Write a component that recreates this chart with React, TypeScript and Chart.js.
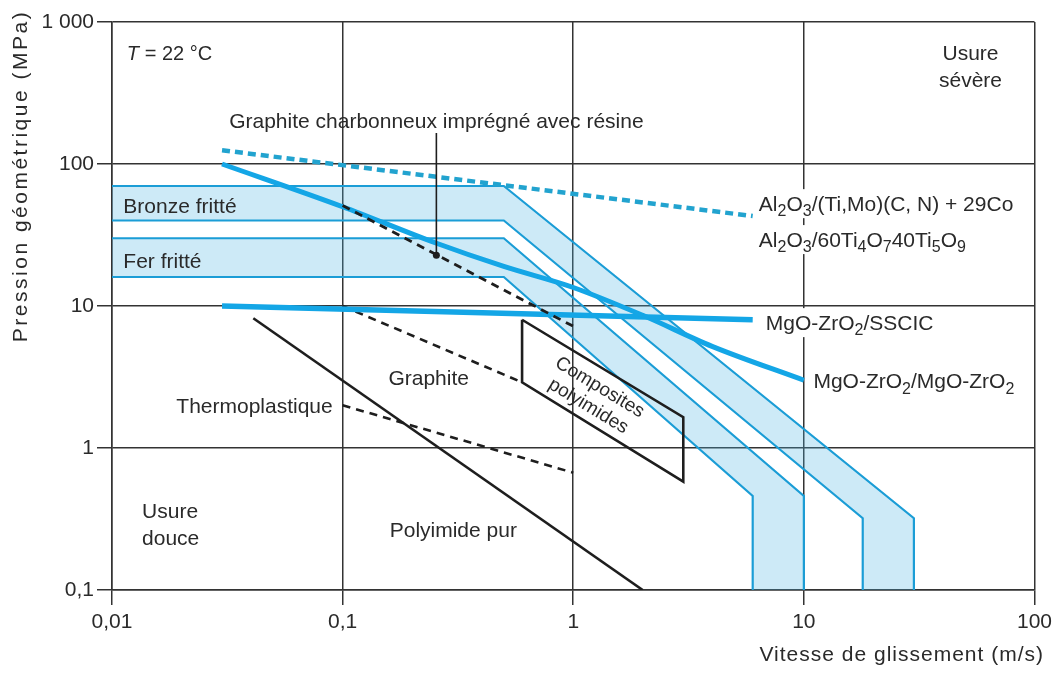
import React, { useEffect, useRef } from 'react';
import { Chart, registerables } from 'chart.js';

Chart.register(...registerables);

// ---------- axes ----------
const xTicks = [0.01, 0.1, 1, 10, 100];
const xTickLabels = ['0,01', '0,1', '1', '10', '100'];
const yTicks = [0.1, 1, 10, 100, 1000];
const yTickLabels = ['0,1', '1', '10', '100', '1 000'];

// ---------- sintered bands (blue) ----------
const bronzeTopX = [0.01, 0.5, 30, 30];
const bronzeTopY = [70, 70, 0.32, 0.1];
const bronzeBottomX = [0.01, 0.5, 18, 18];
const bronzeBottomY = [40, 40, 0.32, 0.1];
const ferTopX = [0.01, 0.5, 10, 10];
const ferTopY = [30, 30, 0.46, 0.1];
const ferBottomX = [0.01, 0.5, 6, 6];
const ferBottomY = [16, 16, 0.46, 0.1];

// ---------- ceramic couples (thick blue) ----------
const al2o3TiMoX = [0.03, 6];
const al2o3TiMoY = [125, 43];
const ceramicCurveX = [0.03, 0.1, 0.25, 0.5, 1, 2, 4, 10];
const ceramicCurveY = [100, 50, 28, 19, 13.5, 8.6, 5.2, 3];
const ssicX = [0.03, 6];
const ssicY = [10, 8];

// ---------- polymers / graphite (black) ----------
const graphiteResinX = [0.1, 1];
const graphiteResinY = [51, 7.2];
const graphiteX = [0.1, 0.6];
const graphiteY = [10, 2.9];
const thermoX = [0.1, 1];
const thermoY = [2, 0.67];
const polyimideX = [0.041, 2];
const polyimideY = [8.2, 0.1];
const compositeX = [0.6, 3, 3, 0.6, 0.6];
const compositeY = [8, 1.65, 0.58, 2.9, 8];
const leaderX = [0.255, 0.255];
const leaderY = [165, 22.8];

// ---------- annotations (data coordinates) ----------
type Ann = { text: string[]; x: number; y: number; align: 'left' | 'center' | 'right'; size: number; bg?: boolean };
const annotations: Ann[] = [
  { text: ['*T* = 22 °C'], x: 0.0116, y: 605, align: 'left', size: 20 },
  { text: ['Usure', 'sévère'], x: 52.8, y: 615, align: 'center', size: 21 },
  { text: ['Graphite charbonneux imprégné avec résine'], x: 0.255, y: 204, align: 'center', size: 21 },
  { text: ['Bronze fritté'], x: 0.0112, y: 51.4, align: 'left', size: 21 },
  { text: ['Fer fritté'], x: 0.0112, y: 21.1, align: 'left', size: 21 },
  { text: ['Al_2O_3/(Ti,Mo)(C, N) + 29Co'], x: 6.38, y: 53, align: 'left', size: 21, bg: true },
  { text: ['Al_2O_3/60Ti_4O_740Ti_5O_9'], x: 6.38, y: 29.6, align: 'left', size: 21, bg: true },
  { text: ['MgO-ZrO_2/SSCIC'], x: 6.84, y: 7.7, align: 'left', size: 21, bg: true },
  { text: ['MgO-ZrO_2/MgO-ZrO_2'], x: 11.0, y: 2.97, align: 'left', size: 21 },
  { text: ['Graphite'], x: 0.158, y: 3.16, align: 'left', size: 21 },
  { text: ['Thermoplastique'], x: 0.0906, y: 2.01, align: 'right', size: 21 },
  { text: ['Usure', 'douce'], x: 0.0135, y: 0.366, align: 'left', size: 21 },
  { text: ['Polyimide pur'], x: 0.16, y: 0.269, align: 'left', size: 21 },
];
const compositeLabel = ['Composites', 'polyimides'];
const compositeLabelPos = { x: 1.23, y: 2.29 };
const xTitle = 'Vitesse de glissement (m/s)';
const yTitle = 'Pression géométrique (MPa)';

// ---------- styles ----------
const FONT = "'Liberation Sans', Arial, Helvetica, sans-serif";
const TEXT = '#2a2a2a';
const GRID = '#333333';
const EDGE = '#1b9dd6';
const THICK = '#14a6e6';
const BAND_FILL = 'rgba(75,178,228,0.28)';
const BLACK = '#1e1e1e';

const pts = (xs: number[], ys: number[]) => xs.map((x, i) => ({ x, y: ys[i] }));

const line = (xs: number[], ys: number[], color: string, width: number, order: number, dash: number[] = [], extra: any = {}) => ({
  data: pts(xs, ys),
  showLine: true,
  borderColor: color,
  borderWidth: width,
  borderDash: dash,
  borderCapStyle: 'butt',
  borderJoinStyle: 'miter',
  pointRadius: 0,
  fill: false,
  tension: 0,
  order,
  ...extra,
});

const band = (tx: number[], ty: number[], bx: number[], by: number[]) => ({
  data: [...pts(tx, ty), ...pts(bx, by).reverse()],
  showLine: true,
  borderColor: 'rgba(0,0,0,0)',
  borderWidth: 0,
  backgroundColor: BAND_FILL,
  fill: 'shape',
  pointRadius: 0,
  tension: 0,
  order: 100,
});

type Seg = { t: string; sub: boolean; italic: boolean };
function parseRich(s: string): Seg[] {
  const segs: Seg[] = [];
  let italic = false;
  for (let i = 0; i < s.length; i++) {
    const c = s[i];
    if (c === '*') { italic = !italic; continue; }
    if (c === '_' && i + 1 < s.length) { segs.push({ t: s[i + 1], sub: true, italic }); i++; continue; }
    const last = segs[segs.length - 1];
    if (last && !last.sub && last.italic === italic) last.t += c;
    else segs.push({ t: c, sub: false, italic });
  }
  return segs;
}
function segFont(seg: Seg, size: number) {
  return `${seg.italic ? 'italic ' : ''}${seg.sub ? Math.round(size * 0.74) : size}px ${FONT}`;
}
function measureRich(ctx: CanvasRenderingContext2D, s: string, size: number) {
  let w = 0;
  for (const seg of parseRich(s)) { ctx.font = segFont(seg, size); w += ctx.measureText(seg.t).width; }
  return w;
}
function drawRich(ctx: CanvasRenderingContext2D, s: string, x: number, y: number, size: number, align: string) {
  const w = measureRich(ctx, s, size);
  let cx = align === 'left' ? x : align === 'right' ? x - w : x - w / 2;
  const base = y + size * 0.36;
  ctx.textAlign = 'left';
  ctx.textBaseline = 'alphabetic';
  for (const seg of parseRich(s)) {
    ctx.font = segFont(seg, size);
    ctx.fillText(seg.t, cx, seg.sub ? base + size * 0.27 : base);
    cx += ctx.measureText(seg.t).width;
  }
}

const LINE_H = 27;

const annotationPlugin = {
  id: 'annotationPlugin',
  beforeDatasetsDraw(chart: any) {
    const ctx: CanvasRenderingContext2D = chart.ctx;
    const xs = chart.scales.x, ys = chart.scales.y;
    ctx.save();
    ctx.fillStyle = '#ffffff';
    for (const a of annotations) {
      if (!a.bg) continue;
      const px = xs.getPixelForValue(a.x);
      const py = ys.getPixelForValue(a.y);
      const w = Math.max(...a.text.map((t) => measureRich(ctx, t, a.size)));
      ctx.fillRect(px - 3, py - 14, w + 5, a.text.length * LINE_H + 2);
    }
    ctx.restore();
  },
  afterDatasetsDraw(chart: any) {
    const ctx: CanvasRenderingContext2D = chart.ctx;
    const xs = chart.scales.x, ys = chart.scales.y;
    ctx.save();
    ctx.fillStyle = TEXT;
    for (const a of annotations) {
      const px = xs.getPixelForValue(a.x);
      const py = ys.getPixelForValue(a.y);
      a.text.forEach((t, i) => drawRich(ctx, t, px, py + i * LINE_H, a.size, a.align));
    }
    // rotated composite label, aligned with the box's top edge
    const x0 = xs.getPixelForValue(compositeX[0]), y0 = ys.getPixelForValue(compositeY[0]);
    const x1 = xs.getPixelForValue(compositeX[1]), y1 = ys.getPixelForValue(compositeY[1]);
    const ang = Math.atan2(y1 - y0, x1 - x0);
    const cx = xs.getPixelForValue(compositeLabelPos.x), cy = ys.getPixelForValue(compositeLabelPos.y);
    ctx.translate(cx, cy);
    ctx.rotate(ang);
    ctx.font = `19px ${FONT}`;
    ctx.textAlign = 'center';
    ctx.textBaseline = 'middle';
    ctx.fillText(compositeLabel[0], 0, -11);
    ctx.fillText(compositeLabel[1], 0, 11);
    ctx.restore();

    // axis titles
    ctx.save();
    ctx.fillStyle = TEXT;
    ctx.font = `21px ${FONT}`;
    (ctx as any).letterSpacing = '1px';
    ctx.textAlign = 'right';
    ctx.textBaseline = 'middle';
    ctx.fillText(xTitle, chart.width - 13, 655);
    (ctx as any).letterSpacing = '2.5px';
    ctx.translate(21, chart.chartArea.top + 154);
    ctx.rotate(-Math.PI / 2);
    ctx.textAlign = 'center';
    ctx.fillText(yTitle, 0, 0);
    (ctx as any).letterSpacing = '0px';
    ctx.restore();
  },
};

export default function App() {
  const ref = useRef<HTMLCanvasElement>(null);
  useEffect(() => {
    document.body.style.margin = '0';
    const canvas = ref.current!;
    const chart = new Chart(canvas, {
      type: 'scatter',
      data: {
        datasets: [
          band(bronzeTopX, bronzeTopY, bronzeBottomX, bronzeBottomY),
          band(ferTopX, ferTopY, ferBottomX, ferBottomY),
          line(bronzeTopX, bronzeTopY, EDGE, 2.2, 50),
          line(bronzeBottomX, bronzeBottomY, EDGE, 2.2, 50),
          line(ferTopX, ferTopY, EDGE, 2.2, 50),
          line(ferBottomX, ferBottomY, EDGE, 2.2, 50),
          line(polyimideX, polyimideY, BLACK, 2.6, 20),
          line(compositeX, compositeY, BLACK, 2.6, 20),
          line(graphiteX, graphiteY, BLACK, 2.6, 20, [8, 6]),
          line(thermoX, thermoY, BLACK, 2.6, 20, [8, 6]),
          line(al2o3TiMoX, al2o3TiMoY, '#22a3cf', 4.5, 12, [8, 5]),
          line(ssicX, ssicY, THICK, 5.5, 11),
          line(ceramicCurveX, ceramicCurveY, THICK, 5, 10, [], { cubicInterpolationMode: 'monotone' }),
          line(graphiteResinX, graphiteResinY, BLACK, 2.8, 5, [8, 6]),
          line(leaderX, leaderY, BLACK, 1.6, 4, [], { pointRadius: [0, 3.5], pointBackgroundColor: BLACK, pointBorderWidth: 0 }),
        ] as any,
      },
      options: {
        responsive: false,
        animation: false,
        devicePixelRatio: 1,
        events: [],
        layout: { padding: { left: 0, right: 20, top: 22, bottom: 0 } },
        plugins: { legend: { display: false }, tooltip: { enabled: false }, title: { display: false } },
        scales: {
          x: {
            type: 'logarithmic',
            min: 0.01,
            max: 100,
            afterBuildTicks: (s: any) => { s.ticks = xTicks.map((v) => ({ value: v })); },
            afterFit: (s: any) => { s.height = 85; },
            ticks: {
              autoSkip: false,
              maxRotation: 0,
              padding: 5,
              color: TEXT,
              font: { family: FONT, size: 21 },
              callback: (_v: any, i: number) => xTickLabels[i],
            },
            grid: { color: GRID, lineWidth: 1.5, tickLength: 15, tickColor: GRID, drawTicks: true },
            border: { display: true, color: GRID, width: 1.5 },
          },
          y: {
            type: 'logarithmic',
            min: 0.1,
            max: 1000,
            afterBuildTicks: (s: any) => { s.ticks = yTicks.map((v) => ({ value: v })); },
            afterFit: (s: any) => { s.width = 112; },
            ticks: {
              autoSkip: false,
              padding: 3,
              color: TEXT,
              font: { family: FONT, size: 21 },
              callback: (_v: any, i: number) => yTickLabels[i],
            },
            grid: { color: GRID, lineWidth: 1.5, tickLength: 15, tickColor: GRID, drawTicks: true },
            border: { display: true, color: GRID, width: 1.5 },
          },
        },
      } as any,
      plugins: [annotationPlugin],
    });
    return () => chart.destroy();
  }, []);
  return (
    <div style={{ width: 1057, height: 675, background: '#ffffff' }}>
      <canvas ref={ref} width={1057} height={675} style={{ display: 'block' }} />
    </div>
  );
}
